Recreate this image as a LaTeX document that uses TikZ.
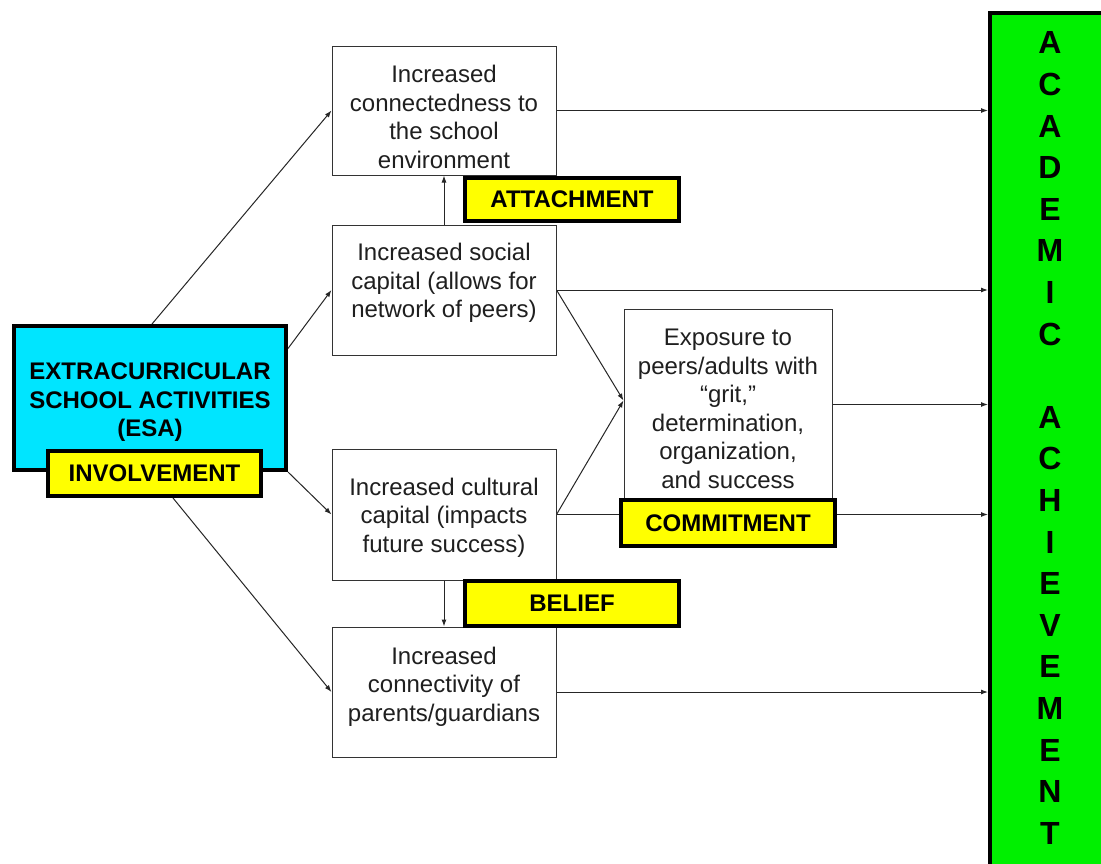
\documentclass[tikz,border=0pt]{standalone}
\usepackage{fontspec}
\setmainfont{Liberation Sans}
\usetikzlibrary{arrows.meta,calc}
\pgfdeclarelayer{bg}
\pgfsetlayers{bg,main}
\definecolor{esacyan}{RGB}{0,229,255}
\definecolor{tagyellow}{RGB}{255,255,0}
\definecolor{achgreen}{RGB}{0,240,0}
\begin{document}
\begin{tikzpicture}[x=1pt,y=-1pt,
  plainbox/.style={draw=black!80, line width=1pt, fill=white, rectangle, inner sep=0pt},
  txt/.style={align=center, inner sep=0pt, anchor=north, font=\fontsize{24}{28.5}\selectfont, text=black!88},
  tagbox/.style={draw=black, line width=4pt, fill=tagyellow, inner sep=0pt, minimum width=214pt, font=\bfseries\fontsize{24}{28}\selectfont},
  conn/.style={line width=1pt, draw=black!85, -{Latex[length=7pt,width=5pt]}},
  link/.style={line width=1pt, draw=black!85}
]
\useasboundingbox (0,0) rectangle (1101,863);
\begin{pgfonlayer}{bg}
\fill[white] (0,0) rectangle (1101,863);
\end{pgfonlayer}

% achievement box
\node[draw=black, line width=4pt, fill=achgreen, minimum width=150pt, minimum height=887pt, inner sep=0pt] (ach) at (1065,456.5) {};
\node[font=\bfseries\fontsize{32}{41.6}\selectfont, align=center, inner sep=0pt] (achtxt) at (1050,438) {A\\C\\A\\D\\E\\M\\I\\C\\\mbox{}\\A\\C\\H\\I\\E\\V\\E\\M\\E\\N\\T};

% ESA
\node[draw=black, line width=4pt, fill=esacyan, minimum width=272pt, minimum height=144pt, inner sep=0pt] (esa) at (150,398) {};
\node[align=center, inner sep=0pt, anchor=north, font=\bfseries\fontsize{24}{28.3}\selectfont] (esatxt) at (150,363) {EXTRACURRICULAR\\SCHOOL ACTIVITIES\\(ESA)};
\node[tagbox, minimum width=213pt, minimum height=45pt] (invol) at (154.5,473.5) {INVOLVEMENT};

% middle boxes
\node[plainbox, minimum width=224pt, minimum height=129pt] (b1) at (444,110.5) {};
\node[txt] (t1) at (444,65) {Increased\\connectedness to\\the school\\environment};
\node[plainbox, minimum width=224pt, minimum height=130pt] (b2) at (444,290) {};
\node[txt] (t2) at (444,243) {Increased social\\capital (allows for\\network of peers)};
\node[plainbox, minimum width=208pt, minimum height=191pt] (b3) at (728,404.5) {};
\node[txt] (t3) at (728,329) {Exposure to\\peers/adults with\\“grit,”\\determination,\\organization,\\and success};
\node[plainbox, minimum width=224pt, minimum height=131pt] (b4) at (444,514.5) {};
\node[txt] (t4) at (444,477.5) {Increased cultural\\capital (impacts\\future success)};
\node[plainbox, minimum width=224pt, minimum height=130pt] (b5) at (444,692) {};
\node[txt] (t5) at (444,646.5) {Increased\\connectivity of\\parents/guardians};

% tags
\node[tagbox, minimum height=43pt] (attach) at (572,199.5) {ATTACHMENT};
\node[tagbox, minimum height=46pt] (commit) at (728,523) {COMMITMENT};
\node[tagbox, minimum height=45pt] (belief) at (572,603.5) {BELIEF};

% connectors
\begin{pgfonlayer}{bg}
\draw[conn] ([xshift=2pt]esa.north) -- (b1.west);
\draw[conn] ([yshift=-24.5pt]esa.north east) -- (b2.west);
\draw[conn] (esa.south east) -- (b4.west);
\draw[conn] ([xshift=18.5pt]invol.south) -- (b5.west);
\draw[conn] (b2.north) -- (b1.south);
\draw[conn] (b4.south) -- (b5.north);
\draw[conn] (b2.east) -- ([yshift=4pt]b3.west);
\draw[conn] (b4.east) -- ([yshift=4pt]b3.west);
\draw[conn] (b1.east) -- (b1.east -| ach.west);
\draw[conn] (b2.east) -- (b2.east -| ach.west);
\draw[conn] (b3.east) -- (b3.east -| ach.west);
\draw[conn] (b4.east) -- (b4.east -| ach.west);
\draw[conn] (b5.east) -- (b5.east -| ach.west);
\end{pgfonlayer}
\end{tikzpicture}
\end{document}
